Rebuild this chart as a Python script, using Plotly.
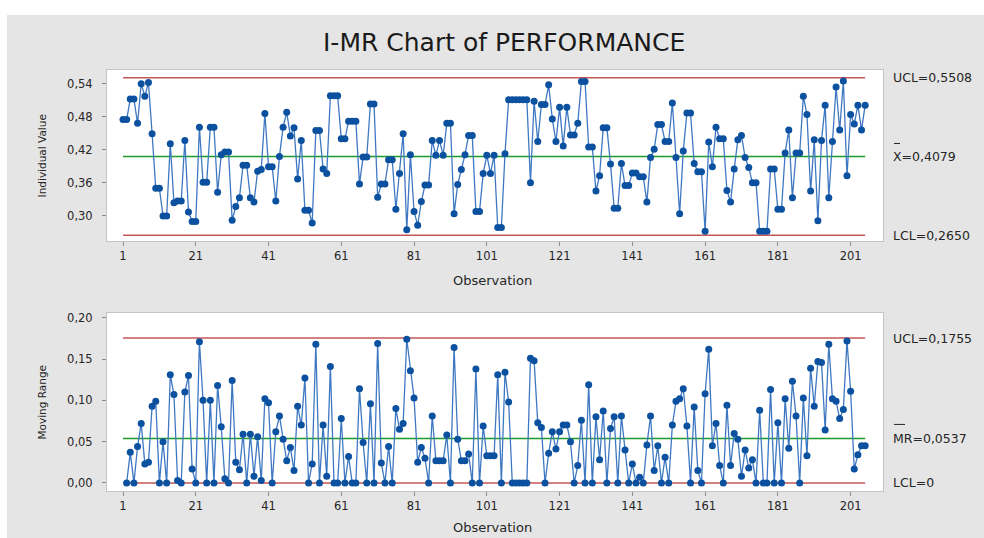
import plotly.graph_objects as go

W, H = 984, 538

observations = list(range(1, 206))
individual_values = [
    0.475, 0.475, 0.512, 0.512, 0.468, 0.540, 0.517, 0.542, 0.449, 0.350,
    0.350, 0.300, 0.300, 0.431, 0.324, 0.327, 0.327, 0.437, 0.307, 0.290,
    0.290, 0.461, 0.361, 0.361, 0.461, 0.461, 0.343, 0.411, 0.416, 0.416,
    0.292, 0.317, 0.333, 0.392, 0.392, 0.333, 0.325, 0.381, 0.384, 0.486,
    0.389, 0.389, 0.327, 0.408, 0.461, 0.488, 0.445, 0.460, 0.367, 0.437,
    0.310, 0.310, 0.287, 0.455, 0.455, 0.385, 0.377, 0.518, 0.518, 0.518,
    0.440, 0.440, 0.472, 0.472, 0.472, 0.358, 0.407, 0.407, 0.503, 0.503,
    0.334, 0.358, 0.358, 0.402, 0.402, 0.312, 0.377, 0.449, 0.275, 0.411,
    0.308, 0.283, 0.326, 0.356, 0.356, 0.437, 0.410, 0.437, 0.410, 0.468,
    0.468, 0.304, 0.357, 0.384, 0.411, 0.446, 0.446, 0.308, 0.308, 0.377,
    0.410, 0.377, 0.410, 0.279, 0.279, 0.413, 0.511, 0.511, 0.511, 0.511,
    0.511, 0.511, 0.360, 0.508, 0.435, 0.502, 0.502, 0.538, 0.476, 0.435,
    0.497, 0.427, 0.497, 0.447, 0.447, 0.468, 0.544, 0.544, 0.425, 0.425,
    0.345, 0.373, 0.460, 0.460, 0.394, 0.314, 0.314, 0.395, 0.355, 0.355,
    0.378, 0.378, 0.371, 0.371, 0.325, 0.406, 0.421, 0.466, 0.466, 0.435,
    0.435, 0.505, 0.406, 0.304, 0.418, 0.487, 0.487, 0.395, 0.380, 0.380,
    0.272, 0.434, 0.389, 0.461, 0.440, 0.440, 0.346, 0.325, 0.385, 0.438,
    0.446, 0.406, 0.388, 0.360, 0.360, 0.272, 0.272, 0.272, 0.385, 0.385,
    0.312, 0.312, 0.414, 0.456, 0.333, 0.414, 0.414, 0.517, 0.484, 0.345,
    0.438, 0.291, 0.437, 0.501, 0.333, 0.435, 0.534, 0.456, 0.545, 0.373,
    0.484, 0.467, 0.501, 0.456, 0.501,
]
# Moving range of two consecutive observations (definition of the MR chart)
moving_range = [None] + [round(abs(b - a), 4) for a, b in zip(individual_values[:-1], individual_values[1:])]

i_ucl, i_center, i_lcl = 0.5508, 0.4079, 0.2650
mr_ucl, mr_center, mr_lcl = 0.1755, 0.0537, 0.0

x_ticks = [1, 21, 41, 61, 81, 101, 121, 141, 161, 181, 201]
i_ticks = [0.30, 0.36, 0.42, 0.48, 0.54]
mr_ticks = [0.00, 0.05, 0.10, 0.15, 0.20]

title_text = "I-MR Chart of PERFORMANCE"
i_label_ucl, i_label_center, i_label_lcl = "UCL=0,5508", "X=0,4079", "LCL=0,2650"
mr_label_ucl, mr_label_center, mr_label_lcl = "UCL=0,1755", "MR=0,0537", "LCL=0"

FONT = "DejaVu Sans"
DATA_LINE = "#3f78c2"
DATA_MARK = "#0b519f"
RED = "#c45656"
GREEN = "#1f9a2a"
TXT = "#262626"


def px(x):
    return x / W


def py(y):
    return 1 - y / H


fig = go.Figure()

first_last = [observations[0], observations[-1]]
for yv, col, xa, ya in [
    (i_ucl, RED, "x", "y"), (i_center, GREEN, "x", "y"), (i_lcl, RED, "x", "y"),
    (mr_ucl, RED, "x2", "y2"), (mr_center, GREEN, "x2", "y2"), (mr_lcl, RED, "x2", "y2"),
]:
    fig.add_trace(go.Scatter(x=first_last, y=[yv, yv], mode="lines",
                             line=dict(color=col, width=1.5), xaxis=xa, yaxis=ya,
                             hoverinfo="skip", showlegend=False))

fig.add_trace(go.Scatter(x=observations, y=individual_values, mode="lines+markers",
                         line=dict(color=DATA_LINE, width=1.3),
                         marker=dict(color=DATA_MARK, size=7),
                         xaxis="x", yaxis="y", showlegend=False))
fig.add_trace(go.Scatter(x=observations, y=moving_range, mode="lines+markers",
                         line=dict(color=DATA_LINE, width=1.3),
                         marker=dict(color=DATA_MARK, size=7),
                         xaxis="x2", yaxis="y2", showlegend=False))

axis_common = dict(showgrid=False, zeroline=False, showline=True, mirror=True,
                   linecolor="#c4c4c4", linewidth=1, ticks="outside", ticklen=4,
                   tickcolor="#8c8c8c", tickfont=dict(family=FONT, size=11.5, color=TXT))

xdom = [px(107), px(883)]
fig.update_layout(
    width=W, height=H,
    margin=dict(l=0, r=0, t=0, b=0),
    paper_bgcolor="#e5e5e5",
    plot_bgcolor="#ffffff",
    separators=",.",
    font=dict(family=FONT, color=TXT),
    xaxis=dict(domain=xdom, range=[-3.4, 209.9], anchor="y", tickvals=x_ticks, **axis_common),
    yaxis=dict(domain=[py(240), py(68)], range=[0.2542, 0.5653], anchor="x",
               tickvals=i_ticks, tickformat=".2f", ticklabelstandoff=7, **axis_common),
    xaxis2=dict(domain=xdom, range=[-3.4, 209.9], anchor="y2", tickvals=x_ticks, **axis_common),
    yaxis2=dict(domain=[py(491), py(312)], range=[-0.0100, 0.2060], anchor="x2",
                tickvals=mr_ticks, tickformat=".2f", ticklabelstandoff=7, **axis_common),
)

shapes = [
    dict(type="rect", xref="paper", yref="paper", x0=0, x1=1, y0=py(13), y1=1.01,
         fillcolor="#ffffff", line=dict(width=0), layer="below"),
    dict(type="rect", xref="paper", yref="paper", x0=-0.01, x1=px(7), y0=-0.01, y1=1.01,
         fillcolor="#ffffff", line=dict(width=0), layer="below"),
    # bars over X and MR in the centre-line labels
    dict(type="line", xref="paper", yref="paper", x0=px(894), x1=px(900), y0=py(142), y1=py(142),
         line=dict(color=TXT, width=1)),
    dict(type="line", xref="paper", yref="paper", x0=px(894), x1=px(905), y0=py(424), y1=py(424),
         line=dict(color=TXT, width=1)),
]
fig.update_layout(shapes=shapes)

ann = []
ann.append(dict(text=title_text, x=px(504), y=py(41), xref="paper", yref="paper",
                showarrow=False, xanchor="center", yanchor="middle",
                font=dict(family=FONT, size=25, color="#1a1a1a")))
for txt, yv, ya in [
    (i_label_ucl, i_ucl, "y"), (i_label_center, i_center, "y"), (i_label_lcl, i_lcl, "y"),
    (mr_label_ucl, mr_ucl, "y2"), (mr_label_center, mr_center, "y2"), (mr_label_lcl, mr_lcl, "y2"),
]:
    ann.append(dict(text=txt, x=px(891), y=yv, xref="paper", yref=ya, showarrow=False,
                    xanchor="left", yanchor="middle", font=dict(family=FONT, size=12.5, color=TXT)))
for txt, yy in [("Observation", 280), ("Observation", 527)]:
    ann.append(dict(text=txt, x=px(493), y=py(yy), xref="paper", yref="paper", showarrow=False,
                    xanchor="center", yanchor="middle", font=dict(family=FONT, size=13, color=TXT)))
for txt, yy in [("Individual Value", 155), ("Moving Range", 402)]:
    ann.append(dict(text=txt, x=px(42), y=py(yy), xref="paper", yref="paper", showarrow=False,
                    textangle=-90, xanchor="center", yanchor="middle",
                    font=dict(family=FONT, size=10.5, color=TXT)))
fig.update_layout(annotations=ann)

fig.write_html("out.html",
               config={"displayModeBar": False},
               post_script="document.body.style.margin='0';document.body.style.overflow='hidden';")
